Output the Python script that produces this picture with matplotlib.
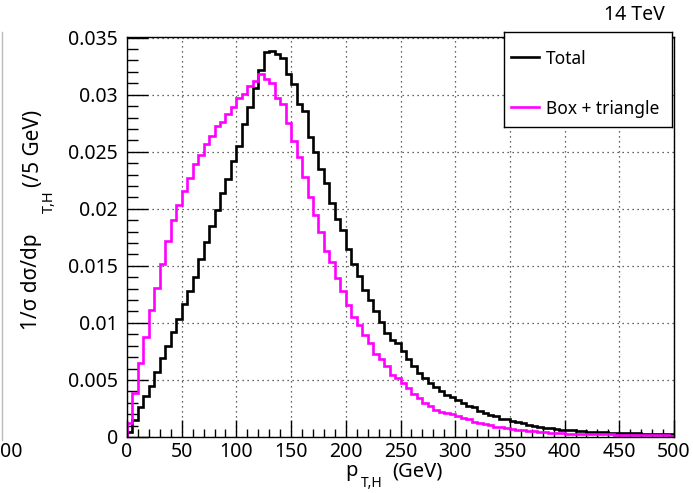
import numpy as np
import matplotlib
matplotlib.use("Agg")
import matplotlib.pyplot as plt
from matplotlib.lines import Line2D
from matplotlib.ticker import FixedLocator, FixedFormatter, MultipleLocator

plt.rcParams['font.family'] = ['Noto Sans', 'DejaVu Sans']

# ---- data (5 GeV bins, 0-500 GeV) ----
bin_edges = np.arange(0, 505, 5)

total = [
    0.0004, 0.0015, 0.0026, 0.0036, 0.0045, 0.0057, 0.0069, 0.0080, 0.0092, 0.0103,
    0.0117, 0.0128, 0.0140, 0.0156, 0.0171, 0.0185, 0.0199, 0.0214, 0.0226, 0.0242,
    0.0255, 0.0274, 0.0289, 0.0306, 0.0322, 0.03375, 0.0338, 0.03355, 0.0332, 0.03185,
    0.0309, 0.0292, 0.0286, 0.0263, 0.0250, 0.0235, 0.0223, 0.0205, 0.0191, 0.0181,
    0.0165, 0.0152, 0.0141, 0.0129, 0.0120, 0.0110, 0.0101, 0.0091, 0.0085, 0.0082,
    0.0075, 0.0068, 0.0062, 0.0056, 0.0052, 0.0047, 0.0044, 0.0040, 0.0037, 0.0035,
    0.0032, 0.0030, 0.0027, 0.0026, 0.0023, 0.0021, 0.0019, 0.0018, 0.0016, 0.00155,
    0.0014, 0.0013, 0.0012, 0.00106, 0.00097, 0.00091, 0.00083, 0.00076, 0.00070, 0.00065,
    0.00060, 0.00057, 0.00054, 0.00051, 0.00048, 0.00046, 0.00044, 0.00041, 0.00039, 0.00037,
    0.00036, 0.00034, 0.00033, 0.00031, 0.00030, 0.00029, 0.00028, 0.00027, 0.00026, 0.00025,
]

box_triangle = [
    0.0012, 0.0039, 0.0065, 0.0088, 0.0111, 0.0131, 0.0152, 0.0172, 0.0190, 0.0203,
    0.0216, 0.0227, 0.0239, 0.0247, 0.0257, 0.0264, 0.0273, 0.0276, 0.0283, 0.0289,
    0.0297, 0.0301, 0.0308, 0.0312, 0.0318, 0.0314, 0.0310, 0.0297, 0.0292, 0.0275,
    0.0259, 0.0245, 0.0228, 0.0210, 0.0195, 0.0180, 0.0163, 0.0153, 0.0139, 0.0128,
    0.0116, 0.0105, 0.0098, 0.0089, 0.0082, 0.0073, 0.0068, 0.0062, 0.0054, 0.0052,
    0.0047, 0.0043, 0.0038, 0.0034, 0.0030, 0.0027, 0.0024, 0.0022, 0.0021, 0.0020,
    0.0018, 0.0017, 0.0016, 0.00135, 0.00126, 0.00112, 0.00103, 0.00091, 0.00086, 0.00077,
    0.00071, 0.00064, 0.00058, 0.00054, 0.00050, 0.00046, 0.00042, 0.00039, 0.00036, 0.00033,
    0.00030, 0.00029, 0.00028, 0.00027, 0.00026, 0.00025, 0.00024, 0.00023, 0.00022, 0.00021,
    0.00020, 0.00019, 0.00018, 0.00017, 0.00016, 0.00016, 0.00015, 0.00015, 0.00014, 0.00013,
]

series_labels = ["Total", "Box + triangle"]
series_colors = ["#000000", "#ff00ff"]

x_ticks = [0, 50, 100, 150, 200, 250, 300, 350, 400, 450, 500]
x_ticklabels = ["0", "50", "100", "150", "200", "250", "300", "350", "400", "450", "500"]
y_ticks = [0, 0.005, 0.01, 0.015, 0.02, 0.025, 0.03, 0.035]
y_ticklabels = ["0", "0.005", "0.01", "0.015", "0.02", "0.025", "0.03", "0.035"]

x_label_main = "p"
x_label_sub = "T,H"
x_label_unit = "(GeV)"
y_label_main = "1/σ dσ/dp"
y_label_sub = "T,H"
y_label_unit = "(/5 GeV)"
energy_text = "14 TeV"

# ---- figure ----
W, H = 693, 493
fig = plt.figure(figsize=(W / 100, H / 100), dpi=100)
ax = fig.add_axes([127 / W, (H - 437) / H, (674 - 127) / W, (437 - 36.5) / H])

for vals, col in zip([total, box_triangle], series_colors):
    ax.stairs(vals, bin_edges, color=col, linewidth=1.9, baseline=0)

ax.set_xlim(0, 500)
ax.set_ylim(0, 0.0351)

ax.xaxis.set_major_locator(FixedLocator(x_ticks))
ax.xaxis.set_major_formatter(FixedFormatter(x_ticklabels))
ax.xaxis.set_minor_locator(MultipleLocator(10))
ax.yaxis.set_major_locator(FixedLocator(y_ticks))
ax.yaxis.set_major_formatter(FixedFormatter(y_ticklabels))
ax.yaxis.set_minor_locator(MultipleLocator(0.001))

ax.tick_params(which='both', direction='in', top=False, right=False, labelsize=14, width=1.0)
ax.tick_params(axis='y', which='major', length=15, pad=6.5)
ax.tick_params(axis='y', which='minor', length=8)
ax.tick_params(axis='x', which='major', length=12, pad=3.5)
ax.tick_params(axis='x', which='minor', length=6)

ax.grid(True, which='major', linestyle=(0, (1, 3)), color='#333333', linewidth=0.9)
ax.set_axisbelow(True)
for s in ax.spines.values():
    s.set_linewidth(1.0)

def fx(px):
    return px / W

def fy(py):
    return 1 - py / H

# x-axis title (ROOT-like lowered subscript)
fig.text(fx(345), fy(476), x_label_main, ha='left', va='baseline', fontsize=14.5)
fig.text(fx(361), fy(483.5), x_label_sub, ha='left', va='center', fontsize=10)
fig.text(fx(392), fy(476), x_label_unit, ha='left', va='baseline', fontsize=14.5)

# y-axis title
fig.text(fx(31), fy(282), y_label_main, ha='center', va='center', rotation=90, fontsize=15)
fig.text(fx(49), fy(213), y_label_sub, ha='center', va='bottom', rotation=90, fontsize=10.5)
fig.text(fx(33), fy(110), y_label_unit, ha='center', va='top', rotation=90, fontsize=15)

fig.text(fx(665), fy(15.5), energy_text, ha='right', va='center', fontsize=14)

# legend box
lax = fig.add_axes([504 / W, (H - 127) / H, (672 - 504) / W, (127 - 32) / H])
lax.set_xlim(0, 1)
lax.set_ylim(0, 1)
lax.set_xticks([])
lax.set_yticks([])
for s in lax.spines.values():
    s.set_linewidth(1.0)
for i, (lab, col) in enumerate(zip(series_labels, series_colors)):
    yy = [0.733, 0.214][i]
    lax.add_line(Line2D([0.04, 0.21], [yy, yy], color=col, linewidth=1.9))
    lax.text(0.25, yy, lab, va='center_baseline', ha='left', fontsize=12.5)

# artifact from neighbouring pad at the left edge
fig.add_artist(Line2D([1.5 / W, 1.5 / W], [fy(32), fy(440)], color='#bbbbbb', linewidth=1.0))
fig.text(0.0, fy(452), "00", ha='left', va='center', fontsize=14)

fig.savefig("out.png", dpi=100)
